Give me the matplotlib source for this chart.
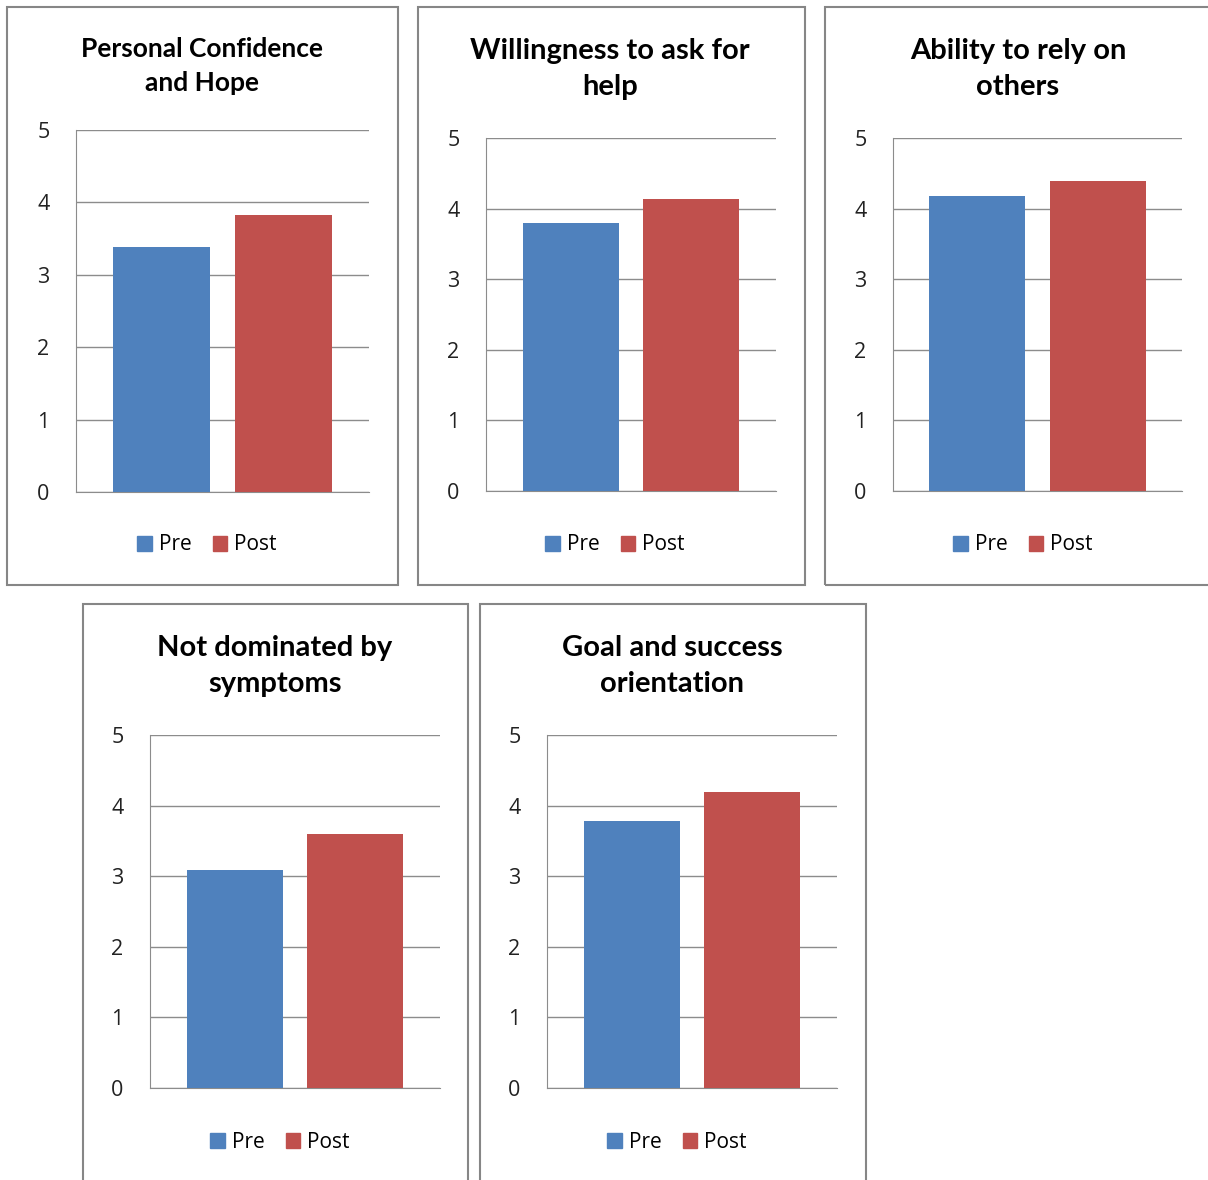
import matplotlib.pyplot as plt
from matplotlib.patches import Rectangle, Patch

# data
titles = ["Personal Confidence\nand Hope",
          "Willingness to ask for\nhelp",
          "Ability to rely on\nothers",
          "Not dominated by\nsymptoms",
          "Goal and success\norientation"]
pre = [3.38, 3.80, 4.18, 3.09, 3.78]
post = [3.83, 4.14, 4.39, 3.60, 4.19]
series = ["Pre", "Post"]
colors = ["#4F81BD", "#C0504D"]
yticks = [0, 1, 2, 3, 4, 5]

W, H = 1208, 1180
fig = plt.figure(figsize=(W / 100, H / 100), dpi=100)
plt.rcParams['font.family'] = ['Lato', 'DejaVu Sans']

# panel layout in pixels: box, axes, title centre (x, y), title size, legend y
panels = [
    ((7, 7, 398, 585), (76, 130, 369, 492), (202, 66), 19, 545),
    ((418, 7, 805, 585), (486, 138, 776, 491), (610, 69), 21, 545),
    ((825, 7, 1215, 585), (893, 138, 1182, 491), (1018, 69), 21, 545),
    ((83, 604, 468, 1190), (150, 735, 440, 1088), (275, 666), 21, 1142),
    ((480, 604, 866, 1190), (547, 735, 837, 1088), (672, 666), 21, 1142),
]


def fx(x):
    return x / W


def fy(y):
    return 1 - y / H


for i, (box, axp, tpos, tsize, ly) in enumerate(panels):
    bx0, by0, bx1, by1 = box
    fig.patches.append(Rectangle((fx(bx0), fy(by1)), fx(bx1 - bx0), (by1 - by0) / H,
                                 transform=fig.transFigure, fill=False,
                                 edgecolor="#868686", linewidth=1.5))
    ax0, ay0, ax1, ay1 = axp
    ax = fig.add_axes([fx(ax0), fy(ay1), fx(ax1 - ax0), (ay1 - ay0) / H])
    ax.bar([-0.5], [pre[i]], width=0.795, color=colors[0], label=series[0], zorder=3)
    ax.bar([0.5], [post[i]], width=0.795, color=colors[1], label=series[1], zorder=3)
    ax.set_xlim(-1.2, 1.2)
    ax.set_ylim(0, 5)
    ax.set_yticks(yticks, labels=[str(t) for t in yticks],
                  family=['Open Sans', 'DejaVu Sans'], fontsize=15.5, color="#222222")
    ax.set_xticks([])
    ax.yaxis.grid(True, color="#8c8c8c", linewidth=1)
    ax.set_axisbelow(True)
    for s in ["top", "right"]:
        ax.spines[s].set_visible(False)
    for s in ["left", "bottom"]:
        ax.spines[s].set_color("#8c8c8c")
    ax.tick_params(axis="y", length=0, pad=19)

    cx, ty = tpos
    fig.text(fx(cx), fy(ty), titles[i], ha="center", va="center",
             fontsize=tsize, fontweight="bold", linespacing=1.52)
    handles = [Patch(color=c) for c in colors]
    ax.legend(handles, series, loc="center", bbox_to_anchor=(fx(cx + 5), fy(ly)),
              bbox_transform=fig.transFigure, ncol=2, frameon=False,
              handlelength=0.7, handleheight=0.7, handletextpad=0.35,
              columnspacing=1.0, prop={"family": ["Open Sans", "DejaVu Sans"], "size": 15})

fig.savefig("out.png", dpi=100)
